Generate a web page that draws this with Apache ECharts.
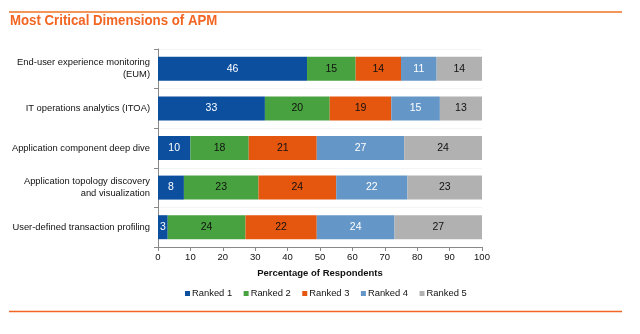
<!DOCTYPE html>
<html><head><meta charset="utf-8">
<script src="https://cdn.jsdelivr.net/npm/echarts@6/dist/echarts.min.js"></script>
<style>html,body{margin:0;padding:0;background:#fff}#c{width:640px;height:334px}</style>
</head><body><div id="c"></div>
<script>
const titleText = "Most Critical Dimensions of APM";
const categories = [
  "End-user experience monitoring\n(EUM)",
  "IT operations analytics (ITOA)",
  "Application component deep dive",
  "Application topology discovery\nand visualization",
  "User-defined transaction profiling"
];
const seriesNames = ["Ranked 1", "Ranked 2", "Ranked 3", "Ranked 4", "Ranked 5"];
const ranked1 = [46, 33, 10, 8, 3];
const ranked2 = [15, 20, 18, 23, 24];
const ranked3 = [14, 19, 21, 24, 22];
const ranked4 = [11, 15, 27, 22, 24];
const ranked5 = [14, 13, 24, 23, 27];
const xTicks = [0, 10, 20, 30, 40, 50, 60, 70, 80, 90, 100];

const colors = ["#0b4f9e", "#48a23f", "#e5560f", "#6497c7", "#b1b1b1"];
const labelColors = ["#fff", "#111", "#111", "#fff", "#111"];
const values = [ranked1, ranked2, ranked3, ranked4, ranked5];
const FONT = "Liberation Sans, Arial, sans-serif";

const chart = echarts.init(document.getElementById('c'), null, {renderer: 'canvas'});
chart.setOption({
  animation: false,
  textStyle: {fontFamily: FONT},
  graphic: [
    {type: 'line', shape: {x1: 9, y1: 12, x2: 622, y2: 12}, style: {stroke: '#f4955a', lineWidth: 2}},
    {type: 'line', shape: {x1: 9, y1: 311.5, x2: 622, y2: 311.5}, style: {stroke: '#f26522', lineWidth: 1.5}},
    {type: 'text', left: 10, top: 14, scaleX: 0.945,
     style: {text: titleText, font: "bold 14px 'Liberation Sans', Arial, sans-serif", fill: '#f26522'}}
  ],
  legend: {
    data: seriesNames,
    left: 180, top: 284,
    itemWidth: 5, itemHeight: 5, itemGap: 11.5,
    icon: 'rect',
    textStyle: {fontFamily: FONT, fontSize: 9.4, color: '#111', padding: [0, 0, 0, -3]}
  },
  grid: {left: 158, right: 158, top: 49, bottom: 87, containLabel: false, outerBoundsMode: 'none'},
  xAxis: {
    type: 'value', min: 0, max: 100, interval: 10,
    name: "Percentage of Respondents", nameLocation: 'middle', nameGap: 21,
    nameTextStyle: {fontFamily: FONT, fontSize: 9.5, fontWeight: 'bold', color: '#111'},
    axisLine: {show: true, lineStyle: {color: '#888'}},
    axisTick: {show: true, length: 4, lineStyle: {color: '#888'}},
    axisLabel: {fontSize: 9.5, color: '#111', margin: 5, formatter: v => xTicks.includes(v) ? String(v) : ''},
    splitLine: {show: false}
  },
  yAxis: {
    type: 'category', data: categories, inverse: true,
    axisLine: {show: true, lineStyle: {color: '#888'}},
    axisTick: {show: true, length: 4, lineStyle: {color: '#888'}},
    axisLabel: {fontSize: 9.4, color: '#111', margin: 8, lineHeight: 12, align: 'right'},
    splitLine: {show: true, lineStyle: {color: '#f4f4f4'}}
  },
  series: seriesNames.map((name, i) => ({
    name, type: 'bar', stack: 'total', data: values[i], barWidth: 24,
    itemStyle: {color: colors[i]},
    label: {show: true, position: 'inside', color: labelColors[i], fontSize: 10.5, fontFamily: FONT}
  }))
});
</script></body></html>
